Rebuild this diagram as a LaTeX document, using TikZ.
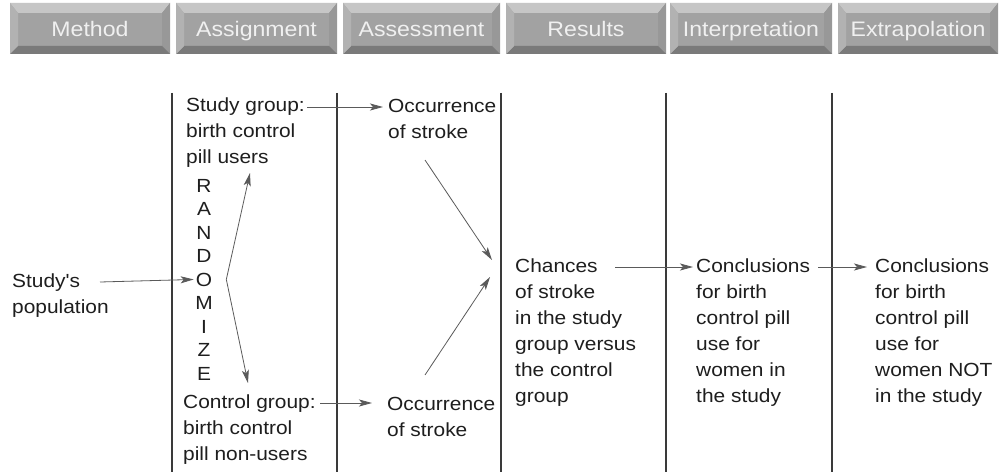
\documentclass[tikz,border=0pt]{standalone}
\usepackage{fontspec}
\newfontfamily\lsans{Liberation Sans}[FakeStretch=1.1]
\usetikzlibrary{arrows.meta}
\definecolor{ink}{HTML}{1E1E1E}
\definecolor{arrgray}{HTML}{5A5A5A}
\definecolor{sepgray}{HTML}{3A3A3A}
\definecolor{tabface}{HTML}{A2A2A2}
\definecolor{tabtop}{HTML}{C6C6C6}
\definecolor{tableft}{HTML}{B2B2B2}
\definecolor{tabright}{HTML}{989898}
\definecolor{tabbottom}{HTML}{7A7A7A}
\definecolor{tabtext}{HTML}{F0F0F0}
\begin{document}
\begin{tikzpicture}[x=1pt,y=-1pt,
  txt/.style={anchor=base west, inner sep=0pt, align=left, text=ink, font=\lsans\fontsize{19}{26}\selectfont},
  letter/.style={anchor=base, inner sep=0pt, text=ink, font=\lsans\fontsize{19}{23}\selectfont},
  arr/.style={draw=arrgray, line width=0.8pt, -{Stealth[length=13pt,width=7pt,inset=3pt,fill=arrgray]}},
  sepline/.style={draw=sepgray, line width=1.1pt},
  tabtxt/.style={anchor=base, inner sep=0pt, text=tabtext, font=\lsans\fontsize{21}{24}\selectfont}]
\useasboundingbox (0,0) rectangle (1006,476);
\fill[white] (0,0) rectangle (1006,476);

% header tabs
\foreach \x/\w/\t [count=\i] in {10/160/Method,176/161/Assignment,343/157/Assessment,506/160/Results,670/162/Interpretation,838/160/Extrapolation}{
  \fill[tabface] (\x,3) rectangle (\x+\w,54);
  \fill[tabtop] (\x,3) -- (\x+\w,3) -- (\x+\w-8,13) -- (\x+8,13) -- cycle;
  \fill[tabright] (\x+\w,3) -- (\x+\w,54) -- (\x+\w-8,46) -- (\x+\w-8,13) -- cycle;
  \fill[tabbottom] (\x,54) -- (\x+\w,54) -- (\x+\w-8,46) -- (\x+8,46) -- cycle;
  \fill[tableft] (\x,3) -- (\x+8,13) -- (\x+8,46) -- (\x,54) -- cycle;
  \node[tabtxt] (tab\i) at (\x+\w/2,37) {\t};
}

% column separators
\foreach \x in {172,337,501,666,832}{
  \draw[sepline] (\x,93) -- (\x,472);
}

% texts (base anchor = baseline of the last line)
\node[txt] (pop) at (12,313) {Study's\\population};
\node[txt] (sg) at (186,164) {Study group:\\birth control\\pill users};
\node[txt] (cg) at (183,460) {Control group:\\birth control\\pill non-users};
\foreach \l/\y in {R/192,A/215.5,N/239,D/262.5,O/286,M/309.5,I/333,Z/356.5,E/380}{
  \node[letter] (L\l) at (204,\y) {\l};
}
\node[txt] (occ1) at (388,139) {Occurrence\\of stroke};
\node[txt] (occ2) at (387,436) {Occurrence\\of stroke};
\node[txt] (ch) at (515,402) {Chances\\of stroke\\in the study\\group versus\\the control\\group};
\node[txt] (c1) at (696,402) {Conclusions\\for birth\\control pill\\use for\\women in\\the study};
\node[txt] (c2) at (875,402) {Conclusions\\for birth\\control pill\\use for\\women NOT\\in the study};

% connectors
\coordinate (fork) at ([shift={(14,0)}]LO.east);
\draw[arr] ([shift={(88,-31)}]pop.base west) -- ([shift={(-2,0)}]LO.west);
\draw[arr] (fork) -- ([shift={(64,9)}]sg.base west);
\draw[arr] (fork) -- ([shift={(65,-77)}]cg.base west);
\draw[arr] ([shift={(121,-57)}]sg.base west) -- ([shift={(-5,-32)}]occ1.base west);
\draw[arr] ([shift={(137,-57)}]cg.base west) -- ([shift={(-15,-33)}]occ2.base west);
\draw[arr] ([shift={(37,21)}]occ1.base west) -- ([shift={(-23,-142)}]ch.base west);
\draw[arr] ([shift={(38,-61)}]occ2.base west) -- ([shift={(-25,-125)}]ch.base west);
\draw[arr] ([shift={(100,-135)}]ch.base west) -- ([shift={(-3,-135)}]c1.base west);
\draw[arr] ([shift={(122,-135)}]c1.base west) -- ([shift={(-8,-135)}]c2.base west);
\end{tikzpicture}
\end{document}
